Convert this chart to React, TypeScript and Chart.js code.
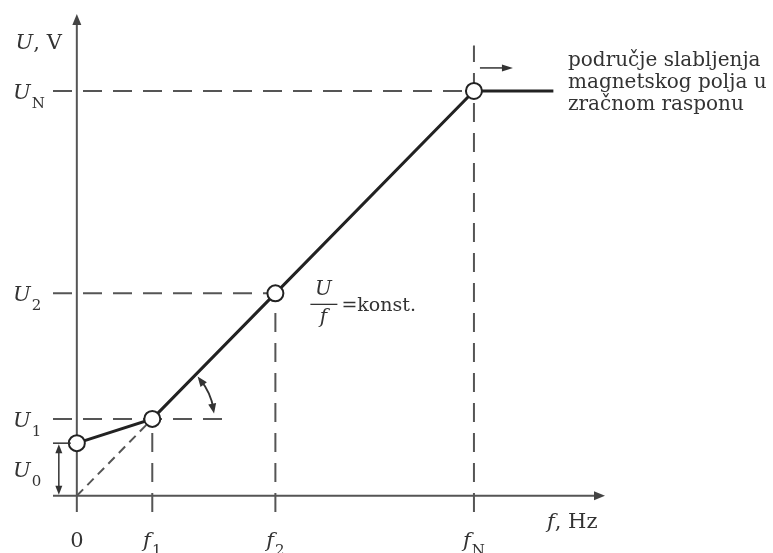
import React, { useEffect, useRef } from 'react';
import { Chart, registerables } from 'chart.js';

Chart.register(...registerables);

// ---- data ----
const freqValues = [0, 9.5, 25, 50, 60];
const voltValues = [52, 76, 200, 400, 400];
const markerRadius = [8, 8, 8, 8, 0];

const xTickValues = [0, 9.5, 25, 50];
const xTickMain = ['0', 'f', 'f', 'f'];
const xTickSub = ['', '1', '2', 'N'];
const xTickItalic = [false, true, true, true];

const yLabelValues = [26, 76, 200, 400];
const yLabelMain = ['U', 'U', 'U', 'U'];
const yLabelSub = ['0', '1', '2', 'N'];

const guideU1End = 19.3;
const guideFNTop = 445;

const noteLines = ['područje slabljenja', 'magnetskog polja u', 'zračnom rasponu'];
const ratioNum = 'U';
const ratioDen = 'f';
const ratioText = '=konst.';
const xTitle = ['f', ', Hz'];
const yTitle = ['U', ', V'];

const X_MIN = -3;
const X_MAX = 66.5;
const Y_MIN = -16;
const Y_MAX = 476;

const FONT = '"DejaVu Serif", "Liberation Serif", serif';
const TEXT = '#333';
const GUIDE = '#555';

function arrowHead(ctx: CanvasRenderingContext2D, tx: number, ty: number, ang: number, len = 11, half = 4.5) {
  ctx.beginPath();
  ctx.moveTo(tx, ty);
  ctx.lineTo(tx - len * Math.cos(ang) + half * Math.sin(ang), ty - len * Math.sin(ang) - half * Math.cos(ang));
  ctx.lineTo(tx - len * Math.cos(ang) - half * Math.sin(ang), ty - len * Math.sin(ang) + half * Math.cos(ang));
  ctx.closePath();
  ctx.fill();
}

function seg(ctx: CanvasRenderingContext2D, x1: number, y1: number, x2: number, y2: number) {
  ctx.beginPath();
  ctx.moveTo(x1, y1);
  ctx.lineTo(x2, y2);
  ctx.stroke();
}

function subLabel(
  ctx: CanvasRenderingContext2D,
  x: number,
  y: number,
  main: string,
  sub: string,
  italic: boolean,
  align: 'left' | 'center',
  size = 20,
  subDrop = 9,
) {
  const mainFont = `${italic ? 'italic ' : ''}${size}px ${FONT}`;
  const subFont = `${Math.round(size * 0.72)}px ${FONT}`;
  ctx.font = mainFont;
  const wm = ctx.measureText(main).width;
  ctx.font = subFont;
  const ws = sub ? ctx.measureText(sub).width : 0;
  const total = wm + (sub ? ws + 1 : 0);
  const sx = align === 'center' ? x - total / 2 : x;
  ctx.textAlign = 'left';
  ctx.textBaseline = 'alphabetic';
  ctx.font = mainFont;
  ctx.fillText(main, sx, y);
  if (sub) {
    ctx.font = subFont;
    ctx.fillText(sub, sx + wm + 1, y + subDrop);
  }
}

const overlay = {
  id: 'overlay',
  beforeDatasetsDraw(chart: any) {
    const { ctx, scales } = chart;
    const x = scales.x;
    const y = scales.y;
    const x0 = x.getPixelForValue(0);
    const y0 = y.getPixelForValue(0);
    const xl = x.getPixelForValue(X_MIN);
    const xr = x.getPixelForValue(X_MAX);
    const yb = y.getPixelForValue(Y_MIN);
    const yt = y.getPixelForValue(Y_MAX);
    ctx.save();
    ctx.strokeStyle = GUIDE;
    ctx.fillStyle = '#444';
    ctx.lineWidth = 2;
    seg(ctx, xl, y0, xr - 8, y0);
    arrowHead(ctx, xr, y0, 0);
    seg(ctx, x0, yb, x0, yt + 8);
    arrowHead(ctx, x0, yt, -Math.PI / 2);
    ctx.restore();
  },
  afterDatasetsDraw(chart: any) {
    const { ctx, scales } = chart;
    const x = scales.x;
    const y = scales.y;
    const x0 = x.getPixelForValue(0);
    const y0 = y.getPixelForValue(0);
    const xl = x.getPixelForValue(X_MIN);
    const xr = x.getPixelForValue(X_MAX);
    const yt = y.getPixelForValue(Y_MAX);
    ctx.save();
    ctx.fillStyle = TEXT;

    // y labels
    yLabelValues.forEach((v, i) => {
      subLabel(ctx, 13, y.getPixelForValue(v) + 8, yLabelMain[i], yLabelSub[i], true, 'left', 21, 9);
    });
    // x labels
    xTickValues.forEach((v, i) => {
      subLabel(ctx, x.getPixelForValue(v), 547, xTickMain[i], xTickSub[i], xTickItalic[i], 'center', 21, 8);
    });
    // axis titles
    ctx.textBaseline = 'alphabetic';
    ctx.textAlign = 'left';
    ctx.font = `italic 21px ${FONT}`;
    const wU = ctx.measureText(yTitle[0]).width;
    ctx.font = `21px ${FONT}`;
    const wV = ctx.measureText(yTitle[1]).width;
    const ysx = x0 - 15 - wU - wV;
    ctx.font = `italic 21px ${FONT}`;
    ctx.fillText(yTitle[0], ysx, yt + 35);
    ctx.font = `21px ${FONT}`;
    ctx.fillText(yTitle[1], ysx + wU, yt + 35);

    ctx.font = `italic 21px ${FONT}`;
    const wf = ctx.measureText(xTitle[0]).width;
    ctx.fillText(xTitle[0], xr - 58, y0 + 32);
    ctx.font = `21px ${FONT}`;
    ctx.fillText(xTitle[1], xr - 58 + wf, y0 + 32);

    // U0 double arrow
    const pU0 = y.getPixelForValue(voltValues[0]);
    const ax = x0 - 18;
    ctx.strokeStyle = '#333';
    ctx.fillStyle = '#333';
    ctx.lineWidth = 1.5;
    seg(ctx, xl, pU0, x0 - 6, pU0);
    seg(ctx, ax, pU0 + 8, ax, y0 - 8);
    arrowHead(ctx, ax, pU0 + 1, -Math.PI / 2, 9, 3.5);
    arrowHead(ctx, ax, y0 - 1, Math.PI / 2, 9, 3.5);

    // angle arc at (f1, U1)
    const cx = x.getPixelForValue(freqValues[1]);
    const cy = y.getPixelForValue(voltValues[1]);
    const r = 62;
    const a1 = (-43 * Math.PI) / 180;
    const a2 = (-5 * Math.PI) / 180;
    ctx.lineWidth = 1.8;
    ctx.beginPath();
    ctx.arc(cx, cy, r, a1 + 0.08, a2 - 0.08);
    ctx.stroke();
    const t1 = a1 - Math.PI / 2;
    arrowHead(ctx, cx + r * Math.cos(a1), cy + r * Math.sin(a1), t1 + 0.1, 10, 4);
    const t2 = a2 + Math.PI / 2;
    arrowHead(ctx, cx + r * Math.cos(a2), cy + r * Math.sin(a2), t2 - 0.1, 10, 4);

    // right arrow near fN
    const pfN = x.getPixelForValue(freqValues[3]);
    const pUN = y.getPixelForValue(voltValues[3]);
    ctx.lineWidth = 1.5;
    seg(ctx, pfN + 6, pUN - 23, pfN + 30, pUN - 23);
    arrowHead(ctx, pfN + 39, pUN - 23, 0, 11, 3.5);

    // note text
    ctx.fillStyle = TEXT;
    ctx.font = `20px ${FONT}`;
    ctx.textAlign = 'left';
    noteLines.forEach((t, i) => ctx.fillText(t, 568, pUN - 25 + i * 22));

    // U/f = konst.
    const pf2 = x.getPixelForValue(freqValues[2]);
    const pU2 = y.getPixelForValue(voltValues[2]);
    const fx = pf2 + 52;
    const fy = pU2 + 11;
    ctx.font = `italic 20px ${FONT}`;
    ctx.textAlign = 'center';
    ctx.fillText(ratioNum, fx - 4, fy - 9);
    ctx.fillText(ratioDen, fx - 4, fy + 19);
    ctx.strokeStyle = '#333';
    ctx.lineWidth = 1.3;
    seg(ctx, fx - 17, fy, fx + 10, fy);
    ctx.font = `19px ${FONT}`;
    ctx.textAlign = 'left';
    ctx.fillText(ratioText, fx + 14, fy + 7);

    ctx.restore();
  },
};

function guide(points: { x: number; y: number }[], dash: number[] = [19, 11]) {
  return {
    data: points,
    borderColor: GUIDE,
    borderWidth: 2,
    borderDash: dash,
    pointRadius: 0,
    fill: false,
    tension: 0,
  };
}

export default function App() {
  const ref = useRef<HTMLCanvasElement>(null);
  useEffect(() => {
    if (!ref.current) return;
    const mainPts = freqValues.map((f, i) => ({ x: f, y: voltValues[i] }));
    const chart = new Chart(ref.current, {
      type: 'line',
      data: {
        datasets: [
          {
            data: mainPts,
            borderColor: '#222',
            borderWidth: 3,
            pointRadius: markerRadius,
            pointBackgroundColor: '#fff',
            pointBorderColor: '#222',
            pointBorderWidth: 2,
            fill: false,
            tension: 0,
          } as any,
          guide([{ x: X_MIN, y: voltValues[3] }, { x: freqValues[3], y: voltValues[3] }]),
          guide([{ x: X_MIN, y: voltValues[2] }, { x: freqValues[2], y: voltValues[2] }]),
          guide([{ x: X_MIN, y: voltValues[1] }, { x: guideU1End, y: voltValues[1] }]),
          guide([{ x: freqValues[3], y: Y_MIN }, { x: freqValues[3], y: guideFNTop }]),
          guide([{ x: freqValues[2], y: Y_MIN }, { x: freqValues[2], y: voltValues[2] }]),
          guide([{ x: freqValues[1], y: Y_MIN }, { x: freqValues[1], y: voltValues[1] }]),
          guide([{ x: 0, y: 0 }, { x: freqValues[1], y: voltValues[1] }], [9, 6]),
        ],
      },
      options: {
        responsive: false,
        animation: false,
        layout: { padding: { left: 53, right: 168, top: 14, bottom: 41 } },
        scales: {
          x: { type: 'linear', min: X_MIN, max: X_MAX, display: false },
          y: { type: 'linear', min: Y_MIN, max: Y_MAX, display: false },
        },
        plugins: { legend: { display: false }, tooltip: { enabled: false } },
      },
      plugins: [overlay],
    });
    return () => chart.destroy();
  }, []);
  return (
    <div style={{ position: 'absolute', left: 0, top: 0, width: 773, height: 553, background: '#fff' }}>
      <canvas ref={ref} width={773} height={553} />
    </div>
  );
}
